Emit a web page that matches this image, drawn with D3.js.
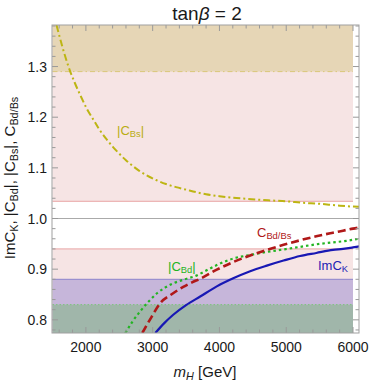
<!DOCTYPE html>
<html><head><meta charset="utf-8">
<script src="https://cdn.jsdelivr.net/npm/d3@7"></script>
<style>body{margin:0;background:#fff}svg{display:block}</style>
</head><body>
<script>
// ---- data ----
const xTicks = [2000, 3000, 4000, 5000, 6000];
const yTicks = [0.8, 0.9, 1.0, 1.1, 1.2, 1.3];
const yTickLabels = ["0.8", "0.9", "1.0", "1.1", "1.2", "1.3"];

const cbsM = [1560, 1650, 1739, 1830, 1918, 2013, 2113, 2200, 2300, 2400, 2500, 2600, 2700, 2800, 2900, 3050, 3200, 3350, 3500, 3650, 3800, 4000, 4200, 4400, 4600, 4800, 5000, 5250, 5500, 5750, 6000, 6090];
const cbsV = [1.382, 1.338, 1.300, 1.269, 1.243, 1.217, 1.195, 1.176, 1.158, 1.142, 1.128, 1.115, 1.104, 1.094, 1.086, 1.076, 1.068, 1.062, 1.057, 1.052, 1.048, 1.044, 1.041, 1.039, 1.037, 1.0355, 1.034, 1.031, 1.029, 1.026, 1.0235, 1.023];

const cbdbsM = [2845, 2980, 3114, 3290, 3458, 3590, 3712, 3960, 4206, 4460, 4709, 4960, 5207, 5450, 5700, 5850, 6000, 6090];
const cbdbsV = [0.774, 0.805, 0.833, 0.851, 0.865, 0.874, 0.881, 0.899, 0.914, 0.927, 0.938, 0.948, 0.957, 0.965, 0.972, 0.976, 0.980, 0.982];

const cbdM = [2591, 2700, 2815, 2940, 3070, 3190, 3308, 3480, 3667, 3712, 3960, 4206, 4460, 4709, 4960, 5207, 5450, 5700, 5850, 6000, 6090];
const cbdV = [0.774, 0.797, 0.817, 0.836, 0.853, 0.864, 0.872, 0.880, 0.888, 0.891, 0.908, 0.921, 0.928, 0.934, 0.939, 0.944, 0.949, 0.953, 0.955, 0.958, 0.960];

const ckM = [3040, 3170, 3308, 3500, 3712, 3960, 4206, 4460, 4709, 4960, 5207, 5450, 5700, 5850, 6000, 6090];
const ckV = [0.774, 0.793, 0.810, 0.829, 0.846, 0.866, 0.882, 0.896, 0.907, 0.917, 0.926, 0.932, 0.938, 0.940, 0.943, 0.945];

const bandLevels = {
  bsUpper: 1.29, bsLower: 1.034, bdUpper: 0.94, kUpper: 0.88, bdbsUpper: 0.83
};

// ---- layout ----
const W = 372, H = 382;
const fl = 52, fr = 359, ft = 25, fb = 333;
const x = d3.scaleLinear().domain([1500, 6000]).range([52.5, 353]);
const y = d3.scaleLinear().domain([0.774, 1.382]).range([fb, ft]);
const font = "'Liberation Sans', Arial, sans-serif";

const svg = d3.select("body").append("svg").attr("width", W).attr("height", H)
  .style("font-family", font);

svg.append("defs").append("clipPath").attr("id", "clip")
  .append("rect").attr("x", fl).attr("y", ft).attr("width", fr - fl).attr("height", fb - ft);

const g = svg.append("g").attr("clip-path", "url(#clip)");
const yTop = y.domain()[1], yBot = y.domain()[0];
function band(lo, hi, color) {
  g.append("rect").attr("x", x(1500)).attr("width", x(6000) - x(1500))
    .attr("y", y(hi)).attr("height", y(lo) - y(hi)).attr("fill", color);
}
band(bandLevels.bsLower, yTop, "#f6e4e4");
band(bandLevels.bsUpper, yTop, "#e6d6b6");
band(yBot, bandLevels.bdUpper, "#f6e4e4");
band(yBot, bandLevels.kUpper, "#c6b6da");
band(yBot, bandLevels.bdbsUpper, "#a0b6aa");

function hline(v, color, dash, w) {
  g.append("line").attr("x1", x(1500)).attr("x2", x(6000)).attr("y1", y(v)).attr("y2", y(v))
    .attr("stroke", color).attr("stroke-width", w || 1).attr("stroke-dasharray", dash || null);
}
hline(bandLevels.bsUpper, "#d9c77a", "5 3 1.5 3");
hline(bandLevels.bsLower, "#e8a4a4");
hline(bandLevels.bdUpper, "#e8a4a4");
hline(bandLevels.kUpper, "#8c84cc");
hline(bandLevels.bdbsUpper, "#7cc47c", "1.5 2");
g.append("line").attr("x1", fl).attr("x2", fr).attr("y1", y(1)).attr("y2", y(1))
  .attr("stroke", "#aaaaaa").attr("stroke-width", 1);

// ticks (inward)
const tickG = svg.append("g").attr("stroke", "#999").attr("stroke-width", 1);
for (let v = 1600; v <= 6000; v += 200) {
  const major = v % 1000 === 0;
  const L = major ? 6 : 3.5;
  tickG.append("line").attr("x1", x(v)).attr("x2", x(v)).attr("y1", fb).attr("y2", fb - L);
  tickG.append("line").attr("x1", x(v)).attr("x2", x(v)).attr("y1", ft).attr("y2", ft + L);
}
for (let i = 0; i <= 30; i++) {
  const v = 0.78 + i * 0.02;
  if (v > 1.382) break;
  const major = Math.abs(Math.round(v * 10) - v * 10) < 1e-6;
  const L = major ? 6 : 3.5;
  tickG.append("line").attr("x1", fl).attr("x2", fl + L).attr("y1", y(v)).attr("y2", y(v));
  tickG.append("line").attr("x1", fr).attr("x2", fr - L).attr("y1", y(v)).attr("y2", y(v));
}

// curves
const line = d3.line().x(d => x(d[0])).y(d => y(d[1])).curve(d3.curveMonotoneX);
function curve(ms, vs, color, w, dash) {
  g.append("path").datum(ms.map((m, i) => [m, vs[i]])).attr("d", line)
    .attr("fill", "none").attr("stroke", color).attr("stroke-width", w)
    .attr("stroke-dasharray", dash || null);
}
curve(cbsM, cbsV, "#bdb513", 2, "7 3 2 3");
curve(cbdM, cbdV, "#22b422", 2.2, "2.5 3");
curve(cbdbsM, cbdbsV, "#b01818", 2.6, "8 4");
curve(ckM, ckV, "#1818b4", 2.2, null);

// frame
svg.append("rect").attr("x", fl).attr("y", ft).attr("width", fr - fl).attr("height", fb - ft)
  .attr("fill", "none").attr("stroke", "#a0a0a0").attr("stroke-width", 1);

// tick labels
svg.append("g").selectAll("text").data(xTicks).join("text")
  .attr("x", d => x(d)).attr("y", 352).attr("text-anchor", "middle")
  .attr("font-size", 14).attr("fill", "#1a1a1a").text(d => d);
svg.append("g").selectAll("text").data(yTicks).join("text")
  .attr("x", 47).attr("y", d => y(d) + 5).attr("text-anchor", "end")
  .attr("font-size", 14).attr("fill", "#1a1a1a").text((d, i) => yTickLabels[i]);

// labels with subscripts
function sub(parent, parts, attrs) {
  const t = parent.append("text");
  Object.entries(attrs).forEach(([k, v]) => t.attr(k, v));
  parts.forEach(p => {
    const s = t.append("tspan").text(p[0]);
    if (p[1] && p[1].includes("sub")) s.attr("font-size", "0.72em").attr("baseline-shift", "-25%");
    if (p[1] && p[1].includes("it")) s.attr("font-style", "italic");
  });
  return t;
}
sub(svg, [["|C"], ["Bs", "sub"], ["|"]], { x: 117, y: 135, "font-size": 13, fill: "#b9ad14" });
sub(svg, [["C"], ["Bd/Bs", "sub"]], { x: 257, y: 237, "font-size": 13, fill: "#b01818" });
sub(svg, [["|C"], ["Bd", "sub"], ["|"]], { x: 168, y: 271, "font-size": 13, fill: "#22b422" });
sub(svg, [["ImC"], ["K", "sub"]], { x: 318, y: 270, "font-size": 13, fill: "#2222b4" });

// title
svg.append("text").attr("x", 207).attr("y", 20).attr("text-anchor", "middle")
  .attr("font-size", 19).attr("fill", "#1a1a1a")
  .html('tan<tspan font-style="italic">β</tspan> = 2');

// axis titles
sub(svg, [["m", "it"], ["H", "sub it"], [" [GeV]"]], { x: 205, y: 377, "text-anchor": "middle", "font-size": 15, fill: "#1a1a1a" });
const yt = sub(svg, [["ImC"], ["K", "sub"], [", |C"], ["Bd", "sub"], ["|, |C"], ["Bs", "sub"], ["|, C"], ["Bd/Bs", "sub"]],
  { x: 0, y: 0, "text-anchor": "middle", "font-size": 15, fill: "#1a1a1a" });
yt.attr("transform", "translate(15,178) rotate(-90)");
</script>
</body></html>
